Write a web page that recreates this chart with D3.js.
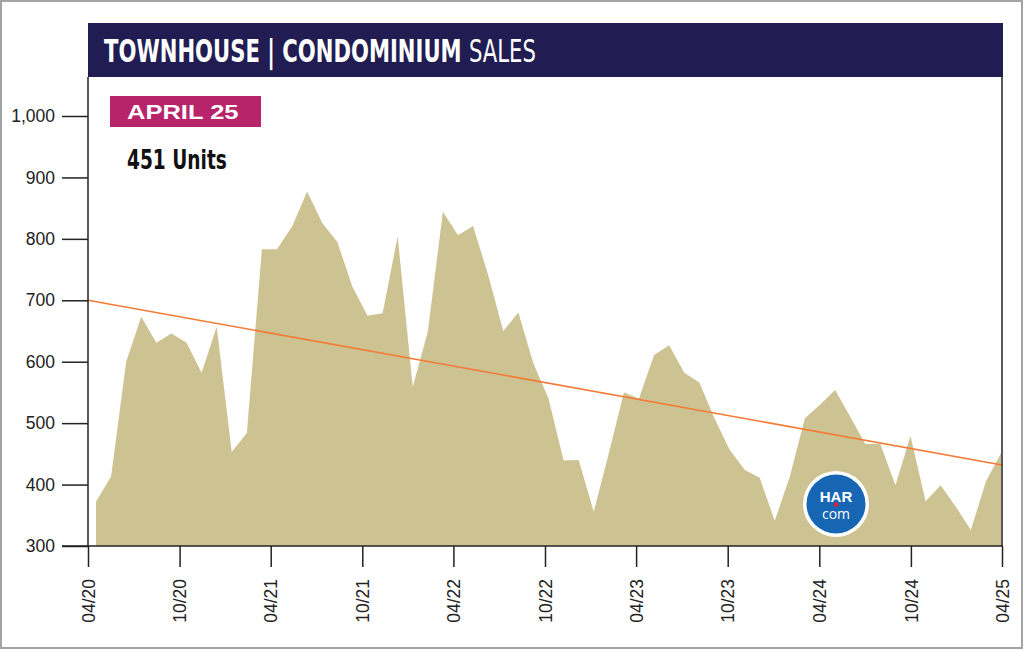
<!DOCTYPE html>
<html>
<head>
<meta charset="utf-8">
<script src="https://cdn.jsdelivr.net/npm/d3@7"></script>
<style>
  html, body { margin: 0; padding: 0; background: #fff; }
  svg { display: block; }
</style>
</head>
<body>
<div id="chart"></div>
<script>
// monthly townhouse / condo sales, 04/20 .. 04/25
var months = ["04/20","05/20","06/20","07/20","08/20","09/20","10/20","11/20","12/20","01/21","02/21","03/21",
              "04/21","05/21","06/21","07/21","08/21","09/21","10/21","11/21","12/21","01/22","02/22","03/22",
              "04/22","05/22","06/22","07/22","08/22","09/22","10/22","11/22","12/22","01/23","02/23","03/23",
              "04/23","05/23","06/23","07/23","08/23","09/23","10/23","11/23","12/23","01/24","02/24","03/24",
              "04/24","05/24","06/24","07/24","08/24","09/24","10/24","11/24","12/24","01/25","02/25","03/25",
              "04/25"];
var sales = [372, 413, 600, 673, 631, 646, 631, 582, 657, 453, 484, 783,
             783, 820, 877, 826, 795, 722, 675, 679, 804, 559, 649, 844,
             806, 821, 741, 650, 680, 597, 540, 439, 440, 356, 451, 550,
             540, 611, 627, 582, 566, 508, 457, 424, 411, 341, 413, 508,
             530, 554, 511, 466, 466, 399, 479, 373, 399, 364, 326, 405,
             451];
// trend line, value at start and end of the axis
var trendValues = [700, 432];
var xTickLabels = ["04/20","10/20","04/21","10/21","04/22","10/22","04/23","10/23","04/24","10/24","04/25"];
var yTickValues = [300, 400, 500, 600, 700, 800, 900, 1000];

var W = 1024, H = 651;
var plotLeft = 88, plotRight = 1002, plotTop = 116, plotBottom = 546;

var svg = d3.select("#chart").append("svg")
    .attr("width", W)
    .attr("height", H);

// outer grey frame
svg.append("rect")
    .attr("x", 1).attr("y", 1)
    .attr("width", 1021).attr("height", 647)
    .attr("fill", "none")
    .attr("stroke", "#a3a3a3")
    .attr("stroke-width", 2);

var parseMonth = d3.timeParse("%m/%y");

var x = d3.scaleTime()
    .domain([parseMonth(xTickLabels[0]), parseMonth(xTickLabels[xTickLabels.length - 1])])
    .range([plotLeft, plotRight]);

// data points sit a little right of the first tick
var xData = d3.scalePoint()
    .domain(months)
    .range([96, 1001]);

var y = d3.scaleLinear()
    .domain([300, 1000])
    .range([plotBottom, plotTop]);

//area
var area = d3.area()
    .x(function(d, i) { return xData(months[i]); })
    .y0(y(300))
    .y1(function(d) { return y(d); });

svg.append("path")
    .datum(sales)
    .attr("d", area)
    .attr("fill", "#cdc291");

//trend line
svg.append("line")
    .attr("x1", x.range()[0]).attr("y1", y(trendValues[0]))
    .attr("x2", x.range()[1]).attr("y2", y(trendValues[1]))
    .attr("stroke", "#f47b36")
    .attr("stroke-width", 1.6);

// title bar
svg.append("rect")
    .attr("x", plotLeft).attr("y", 23)
    .attr("width", plotRight - plotLeft + 1).attr("height", 54)
    .attr("fill", "#211d52");

function fitWidth(sel, x0, w) {
  var bb = sel.node().getBBox();
  sel.attr("transform", "translate(" + x0 + ",0) scale(" + (w / bb.width) + ",1) translate(" + (-x0) + ",0)");
}

var title = svg.append("text")
    .attr("x", 104).attr("y", 62)
    .attr("fill", "#fff")
    .style("font-family", "'Liberation Sans Narrow', 'DejaVu Sans Condensed', Roboto, sans-serif")
    .style("font-size", "32px");
title.append("tspan").attr("font-weight", "bold").text("TOWNHOUSE | CONDOMINIUM ");
title.append("tspan").attr("font-weight", "normal").text("SALES");
fitWidth(title, 104, 432);

// frame lines left/right
svg.append("line")
    .attr("x1", plotLeft).attr("x2", plotLeft)
    .attr("y1", 77).attr("y2", plotBottom)
    .attr("stroke", "#222").attr("stroke-width", 1.5);
svg.append("line")
    .attr("x1", plotRight).attr("x2", plotRight)
    .attr("y1", 77).attr("y2", plotBottom)
    .attr("stroke", "#222").attr("stroke-width", 1.5);

// badge
svg.append("rect")
    .attr("x", 110).attr("y", 96)
    .attr("width", 151).attr("height", 31)
    .attr("fill", "#b8246a");
var badge = svg.append("text")
    .attr("x", 127).attr("y", 119.5)
    .attr("fill", "#fff")
    .style("font-family", "'Liberation Sans', Arial, sans-serif")
    .style("font-weight", "bold")
    .style("font-size", "21px")
    .text("APRIL 25");
fitWidth(badge, 127, 112);

var units = svg.append("text")
    .attr("x", 127).attr("y", 169.5)
    .attr("fill", "#111")
    .style("font-family", "'Liberation Sans Narrow', 'DejaVu Sans Condensed', Roboto, sans-serif")
    .style("font-weight", "bold")
    .style("font-size", "27px")
    .text(sales[sales.length - 1] + " Units");
fitWidth(units, 127, 100);

// y axis
var yAxis = d3.axisLeft(y)
    .tickValues(yTickValues)
    .tickSize(26)
    .tickPadding(7)
    .tickFormat(d3.format(","));

var gy = svg.append("g")
    .attr("transform", "translate(" + plotLeft + ",0)")
    .call(yAxis);
gy.select(".domain").remove();
gy.selectAll("line").attr("stroke", "#222").attr("stroke-width", 1.5);
gy.selectAll("text")
    .attr("fill", "#222")
    .style("font-family", "'Liberation Sans', Arial, sans-serif")
    .style("font-size", "17.5px");

// x axis
var xAxis = d3.axisBottom(x)
    .tickValues(xTickLabels.map(parseMonth))
    .tickSize(21)
    .tickFormat(d3.timeFormat("%m/%y"));

var gx = svg.append("g")
    .attr("transform", "translate(0," + plotBottom + ")")
    .call(xAxis);
gx.select(".domain").remove();
gx.selectAll("line").attr("stroke", "#222").attr("stroke-width", 1.5);
gx.selectAll("text")
    .attr("fill", "#222")
    .attr("y", 0).attr("dy", "0.35em")
    .attr("transform", "translate(0,33) rotate(-90)")
    .attr("text-anchor", "end")
    .style("font-family", "'Liberation Sans', Arial, sans-serif")
    .style("font-size", "17.5px");

// baseline
svg.append("line")
    .attr("x1", 62).attr("x2", plotRight + 1)
    .attr("y1", plotBottom).attr("y2", plotBottom)
    .attr("stroke", "#222").attr("stroke-width", 1.5);

// HAR.com logo
var logo = svg.append("g").attr("transform", "translate(836,504)");
logo.append("circle").attr("r", 33).attr("fill", "#fff");
logo.append("circle").attr("r", 29.5).attr("fill", "#1666b3");
logo.append("text")
    .attr("y", -2.5)
    .attr("text-anchor", "middle")
    .attr("fill", "#fff")
    .style("font-family", "'Liberation Sans', Arial, sans-serif")
    .style("font-weight", "bold")
    .style("font-size", "15px")
    .text("HAR");
logo.append("circle").attr("cy", 0.5).attr("r", 2.2).attr("fill", "#e8202a");
logo.append("text")
    .attr("y", 15)
    .attr("text-anchor", "middle")
    .attr("fill", "#fff")
    .style("font-family", "'Open Sans', 'Liberation Sans', sans-serif")
    .style("font-size", "14px")
    .text("com");
</script>
</body>
</html>
